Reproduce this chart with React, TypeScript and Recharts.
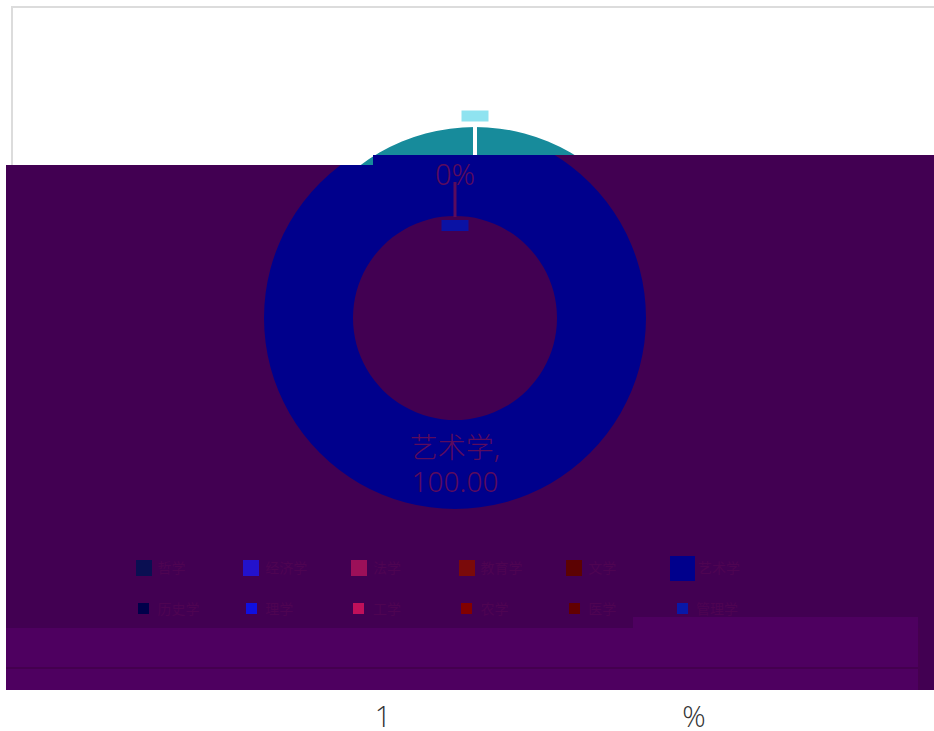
import { PieChart, Pie, Cell, Legend } from 'recharts';

// categories shown in the legend (two rows of six)
const categories = [
  '哲学', '经济学', '法学', '教育学', '文学', '艺术学',
  '历史学', '理学', '工学', '农学', '医学', '管理学',
];
const values = [0, 0, 0, 0, 0, 100, 0, 0, 0, 0, 0, 0];
const sliceColors = [
  '#0a0f52', '#2312cc', '#9c1059', '#7a0a0a', '#5c0202', '#00008c',
  '#00004a', '#1010e0', '#c0105a', '#820000', '#620000', '#0818a8',
];
const footerTexts = ['1', '%'];

const data = categories.map((name, i) => ({ name, value: values[i] }));
const firstZero = data.findIndex(d => d.value === 0);

const RADIAN = Math.PI / 180;
const TEAL = '#178b9b';
const INK = '#5b0b5d';

const polar = (cx: number, cy: number, r: number, angle: number) => [
  cx + r * Math.cos(-angle * RADIAN),
  cy + r * Math.sin(-angle * RADIAN),
];

// label for the teal (unshaded) layer
const baseLabel = (props: any) => {
  const { cx, cy, midAngle, innerRadius, outerRadius, index } = props;
  if (index !== firstZero) return null;
  const [x1, y1] = polar(cx, cy, outerRadius + 5, midAngle);
  const [x2, y2] = polar(cx, cy, innerRadius, midAngle);
  const [bx, by] = polar(cx, cy, outerRadius + 11, midAngle);
  return (
    <g>
      <line x1={x1} y1={y1} x2={x2} y2={y2} stroke="#fff" strokeWidth={4} />
      <rect x={bx - 13.5} y={by - 5.5} width={27} height={11} fill="#8fe3f0" />
    </g>
  );
};

// label for the purple overlay layer
const overlayLabel = (props: any) => {
  const { cx, cy, midAngle, innerRadius, outerRadius, index, value, name } = props;
  if (value > 0) {
    const [x, y] = polar(cx, cy, (innerRadius + outerRadius) / 2, midAngle);
    return (
      <text x={x} y={y} textAnchor="middle" fill={INK} fontSize={28} fontWeight={300}>
        <tspan x={x} dy={-7}>{name},</tspan>
        <tspan x={x} dy={34}>{value.toFixed(2)}</tspan>
      </text>
    );
  }
  if (index !== firstZero) return null;
  const [tx, ty] = polar(cx, cy, outerRadius - 46, midAngle);
  const [x1, y1] = polar(cx, cy, outerRadius - 55, midAngle);
  const [x2, y2] = polar(cx, cy, innerRadius - 1, midAngle);
  const [bx, by] = polar(cx, cy, innerRadius - 9.5, midAngle);
  return (
    <g>
      <text x={tx} y={ty} textAnchor="middle" dominantBaseline="central" fill={INK} fontSize={29} fontWeight={300}>
        0%
      </text>
      <line x1={x1} y1={y1} x2={x2} y2={y2} stroke={INK} strokeWidth={3} />
      <rect x={bx - 13.5} y={by - 5.5} width={27} height={11} fill="#0a12a4" />
    </g>
  );
};

const renderLegend = (props: any) => {
  const items = props.payload ?? [];
  return (
    <div style={{ position: 'relative', width: 928, height: 100 }}>
      {items.map((item: any, i: number) => {
        const row = Math.floor(i / 6);
        const col = i % 6;
        const size = row === 0 ? (col === 5 ? 25 : 16) : 11;
        const cxl = 137.5 + col * 107.7;
        const cyl = row === 0 ? 28 : 68.5;
        return (
          <div key={i}>
            <div
              style={{
                position: 'absolute',
                left: cxl - size / 2,
                top: cyl - size / 2,
                width: size,
                height: size,
                background: item.color,
              }}
            />
            <div
              style={{
                position: 'absolute',
                left: cxl + (col === 5 && row === 0 ? 16 : 14),
                top: cyl - 10,
                fontSize: 14,
                lineHeight: '20px',
                color: '#4e0452',
                whiteSpace: 'nowrap',
              }}
            >
              {item.value}
            </div>
          </div>
        );
      })}
    </div>
  );
};

export default function App() {
  return (
    <div
      style={{
        position: 'absolute',
        left: 0,
        top: 0,
        width: 934,
        height: 731,
        background: '#fff',
        overflow: 'hidden',
        fontFamily: '"Noto Sans", "Noto Sans CJK SC", sans-serif',
      }}
    >
      <div
        style={{
          position: 'absolute',
          left: 11,
          top: 6,
          width: 930,
          height: 680,
          borderLeft: '2px solid #dcdcdc',
          borderTop: '2px solid #dcdcdc',
        }}
      />
      <div style={{ position: 'absolute', left: 0, top: 0 }}>
        <PieChart width={934} height={731} margin={{ top: 0, right: 0, bottom: 0, left: 0 }}>
          <Pie
            data={data}
            dataKey="value"
            nameKey="name"
            cx={475}
            cy={318}
            innerRadius={102}
            outerRadius={191}
            startAngle={90}
            endAngle={-270}
            stroke="none"
            label={baseLabel}
            labelLine={false}
            isAnimationActive={false}
          >
            {data.map(d => (
              <Cell key={d.name} fill={TEAL} />
            ))}
          </Pie>
        </PieChart>
      </div>
      <div
        style={{
          position: 'absolute',
          left: 6,
          top: 155,
          width: 928,
          height: 535,
          background: '#420052',
          overflow: 'hidden',
          clipPath: 'polygon(0 10px, 367px 10px, 367px 0, 100% 0, 100% 100%, 0 100%)',
        }}
      >
        <div style={{ position: 'absolute', left: 370, top: 0, width: 71, height: 10, background: '#14123c' }} />
        <div style={{ position: 'absolute', left: 627, top: 462, width: 285, height: 12, background: '#4e0060' }} />
        <div
          style={{
            position: 'absolute',
            left: 0,
            top: 473,
            width: 912,
            height: 62,
            background: '#4e0060',
            borderRight: '2px solid #45004f',
          }}
        />
        <div style={{ position: 'absolute', left: 0, top: 512, width: 912, height: 2, background: '#44004f' }} />
        <div style={{ position: 'absolute', left: 0, top: 0 }}>
          <PieChart width={928} height={535} margin={{ top: 0, right: 0, bottom: 0, left: 0 }}>
            <Pie
              data={data}
              dataKey="value"
              nameKey="name"
              cx={449}
              cy={163}
              innerRadius={102}
              outerRadius={191}
              startAngle={90}
              endAngle={-270}
              stroke="none"
              label={overlayLabel}
              labelLine={false}
              isAnimationActive={false}
            >
              {data.map((d, i) => (
                <Cell key={d.name} fill={sliceColors[i]} />
              ))}
            </Pie>
            <Legend
              content={renderLegend}
              itemSorter={(item: any) => categories.indexOf(item.value)}
              wrapperStyle={{ position: 'absolute', left: 0, top: 385, width: 928, height: 100 }}
            />
          </PieChart>
        </div>
      </div>
      {footerTexts.map((t, i) => (
        <div
          key={i}
          style={{
            position: 'absolute',
            left: i === 0 ? 383 : 694,
            top: 715,
            transform: 'translate(-50%, -50%)',
            fontSize: 29,
            lineHeight: 1,
            fontWeight: 300,
            color: '#333',
            fontFamily: '"Open Sans", sans-serif',
          }}
        >
          {t}
        </div>
      ))}
    </div>
  );
}
